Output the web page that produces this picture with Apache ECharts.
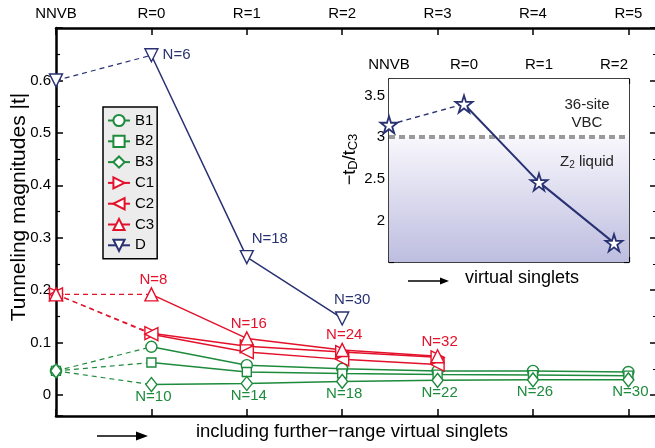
<!DOCTYPE html>
<html><head><meta charset="utf-8">
<script src="https://cdn.jsdelivr.net/npm/echarts@6/dist/echarts.min.js"></script>
<style>html,body{margin:0;padding:0;background:#fff}#c{width:655px;height:448px}</style>
</head><body><div id="c"></div>
<script>
// ---- data ----
const xLabels = ['NNVB', 'R=0', 'R=1', 'R=2', 'R=3', 'R=4', 'R=5'];
const B1 = [0.046, 0.092, 0.057, 0.050, 0.046, 0.046, 0.044];
const B2 = [0.046, 0.062, 0.044, 0.041, 0.039, 0.038, 0.037];
const B3 = [0.046, 0.020, 0.022, 0.026, 0.028, 0.029, 0.029];
const C1 = [0.192, 0.118, 0.093, 0.082, 0.072];
const C2 = [0.192, 0.116, 0.082, 0.068, 0.058];
const C3 = [0.192, 0.192, 0.108, 0.086, 0.074];
const D  = [0.600, 0.648, 0.263, 0.146];
const labelsB = ['', 'N=10', 'N=14', 'N=18', 'N=22', 'N=26', 'N=30'];
const labelsC = ['', 'N=8', 'N=16', 'N=24', 'N=32'];
const labelsD = ['', 'N=6', 'N=18', 'N=30'];
const insetLabels = ['NNVB', 'R=0', 'R=1', 'R=2'];
const ratioDC3 = [3.15, 3.40, 2.46, 1.73];
const vbcThreshold = 3;

// ---- styles ----
const FONT = 'Liberation Sans, Arial, Helvetica, sans-serif';
const GREEN = '#1d8b3c', RED = '#e4112b', NAVY = '#283272';
const STAR = 'path://M50,2 L61.2,36.2 L97.6,36.2 L68.2,57.4 L79.4,91.6 L50,70.4 L20.6,91.6 L31.8,57.4 L2.4,36.2 L38.8,36.2 Z';

function mkSeries(name, arr, color, symbol, rot, size, z, labelCfg, itemLabels) {
  const common = {
    type: 'line', xAxisIndex: 0, yAxisIndex: 0, z: z,
    symbol: symbol, symbolRotate: rot, symbolSize: size,
    itemStyle: { color: '#fff', borderColor: color, borderWidth: 1.4 },
    emphasis: { disabled: true }, animation: false
  };
  const dashed = Object.assign({}, common, {
    name: name + ' (NNVB)',
    data: [[0, arr[0]], { value: [1, arr[1]], symbol: 'none' }],
    lineStyle: { color: color, width: 1.2, type: [5, 4] }
  });
  const solidData = arr.slice(1).map((v, i) => {
    const item = { value: [i + 1, v] };
    if (itemLabels && itemLabels[i]) item.label = itemLabels[i];
    return item;
  });
  const solid = Object.assign({}, common, {
    name: name,
    data: solidData,
    lineStyle: { color: color, width: 1.5 },
    label: labelCfg
  });
  return [dashed, solid];
}

const greenLabel = {
  show: true, position: 'bottom', distance: 0, offset: [2, -3], color: GREEN,
  fontSize: 15, fontFamily: FONT, formatter: p => labelsB[p.dataIndex + 1]
};
const redLabel = {
  show: true, position: 'top', distance: 0, offset: [2, 0], color: RED,
  fontSize: 15, fontFamily: FONT, formatter: p => labelsC[p.dataIndex + 1]
};
const navyLabel = {
  show: true, position: 'top', color: NAVY,
  fontSize: 15, fontFamily: FONT, formatter: p => labelsD[p.dataIndex + 1]
};
const navyItemLabels = [
  { position: 'right', distance: 4 },
  { position: 'top', distance: 4, offset: [23, 0] },
  { position: 'top', distance: 4, offset: [10, 0] }
];

let series = [];
series = series.concat(mkSeries('B1', B1, GREEN, 'circle', 0, 11, 3));
series = series.concat(mkSeries('B2', B2, GREEN, 'rect', 0, 9, 3));
series = series.concat(mkSeries('B3', B3, GREEN, 'diamond', 0, [11, 14], 3, greenLabel));
series = series.concat(mkSeries('C1', C1, RED, 'triangle', -90, 13, 4));
series = series.concat(mkSeries('C2', C2, RED, 'triangle', 90, 13, 4));
series = series.concat(mkSeries('C3', C3, RED, 'triangle', 0, 13, 4, redLabel));
series = series.concat(mkSeries('D', D, NAVY, 'triangle', 180, 13, 5, navyLabel, navyItemLabels));

// inset series
const insetCommon = {
  type: 'line', xAxisIndex: 2, yAxisIndex: 2, z: 6,
  symbol: STAR, symbolSize: 17,
  itemStyle: { color: '#fff', borderColor: NAVY, borderWidth: 1.8 },
  emphasis: { disabled: true }, animation: false
};
series.push({
  type: 'line', xAxisIndex: 2, yAxisIndex: 2, z: 2, data: [], silent: true,
  markArea: {
    silent: true,
    itemStyle: { color: { type: 'linear', x: 0, y: 0, x2: 0, y2: 1,
      colorStops: [{ offset: 0, color: '#f8f7fc' }, { offset: 1, color: '#bdbde0' }] } },
    data: [[{ yAxis: 1.5 }, { yAxis: vbcThreshold }]]
  },
  markLine: {
    silent: true, symbol: 'none', label: { show: false },
    lineStyle: { color: '#9a9a9a', width: 4, type: [6, 4] },
    data: [{ yAxis: vbcThreshold }]
  }
});
series.push(Object.assign({}, insetCommon, {
  data: [[0, ratioDC3[0]], { value: [1, ratioDC3[1]], symbol: 'none' }],
  lineStyle: { color: NAVY, width: 1.4, type: [5, 4] }
}));
series.push(Object.assign({}, insetCommon, {
  data: ratioDC3.slice(1).map((v, i) => [i + 1, v]),
  lineStyle: { color: NAVY, width: 2 }
}));

const axisLineBlack = w => ({ show: true, onZero: false, lineStyle: { color: '#000', width: w } });

const option = {
  backgroundColor: '#fff',
  animation: false,
  textStyle: { fontFamily: FONT },
  grid: [
    { left: 56, top: 28, width: 601, height: 388, outerBoundsMode: 'none', containLabel: false },
    { left: 389, top: 79, width: 240, height: 183, show: true, backgroundColor: '#fff', borderWidth: 0, z: 1,
      outerBoundsMode: 'none', containLabel: false }
  ],
  legend: {
    data: ['B1', 'B2', 'B3', 'C1', 'C2', 'C3', 'D'],
    orient: 'vertical', left: 103, top: 107,
    itemWidth: 22, itemHeight: 14, itemGap: 5.8,
    padding: [6, 3, 6, 4],
    backgroundColor: '#ececec', borderColor: '#000', borderWidth: 1.5,
    textStyle: { fontSize: 15, color: '#000', fontFamily: FONT, lineHeight: 14 },
    selectedMode: false, z: 10
  },
  xAxis: [
    { gridIndex: 0, type: 'value', position: 'top', min: 0, max: 6.3, interval: 1,
      axisLine: axisLineBlack(2.5), splitLine: { show: false },
      axisTick: { inside: true, length: 7, lineStyle: { width: 1.5, color: '#000' } },
      axisLabel: { margin: 7, fontSize: 15, color: '#000', fontFamily: FONT,
        formatter: v => (Number.isInteger(v) && xLabels[v] !== undefined) ? xLabels[v] : '' } },
    { gridIndex: 0, type: 'value', position: 'bottom', min: 0, max: 6.3, interval: 1,
      axisLine: axisLineBlack(2.5), splitLine: { show: false },
      axisTick: { inside: true, length: 7, lineStyle: { width: 1.5, color: '#000' } },
      axisLabel: { show: false },
      name: 'including further\u2212range virtual singlets', nameLocation: 'middle', nameGap: 6,
      nameMoveOverlap: false,
      nameTextStyle: { fontSize: 18.5, color: '#000', fontFamily: FONT, padding: [0, 9, 0, 0], verticalAlign: 'top' } },
    { gridIndex: 1, type: 'value', position: 'top', min: 0, max: 3.2, interval: 1,
      axisLine: axisLineBlack(1.5), splitLine: { show: false },
      axisTick: { inside: true, length: 5, lineStyle: { width: 1.2, color: '#000' } },
      axisLabel: { margin: 7, fontSize: 15, color: '#000', fontFamily: FONT,
        formatter: v => (Number.isInteger(v) && insetLabels[v] !== undefined) ? insetLabels[v] : '' } },
    { gridIndex: 1, type: 'value', position: 'bottom', min: 0, max: 3.2, interval: 1,
      axisLine: axisLineBlack(1.5), splitLine: { show: false },
      axisTick: { inside: true, length: 5, lineStyle: { width: 1.2, color: '#000' } },
      axisLabel: { show: false },
      name: 'virtual singlets', nameLocation: 'middle', nameGap: 7, nameMoveOverlap: false,
      nameTextStyle: { fontSize: 18, color: '#000', fontFamily: FONT, padding: [0, 0, 0, 26], verticalAlign: 'top' } }
  ],
  yAxis: [
    { gridIndex: 0, type: 'value', position: 'left', min: -0.04, max: 0.7, splitNumber: 7,
      axisLine: axisLineBlack(2.5), splitLine: { show: false },
      axisTick: { inside: true, length: 7, lineStyle: { width: 1.5, color: '#000' } },
      minorTick: { show: true, splitNumber: 2, length: 4, lineStyle: { width: 1.2, color: '#000' } },
      axisLabel: { margin: 5, fontSize: 15, color: '#000', fontFamily: FONT,
        formatter: v => { const r = Math.round(v * 10); return (v >= -1e-9 && v < 0.65 && Math.abs(v * 10 - r) < 1e-6) ? (r === 0 ? '0' : (r / 10).toFixed(1)) : ''; } },
      name: 'Tunneling magnitudes |t|', nameLocation: 'middle', nameGap: 26, nameRotate: 90,
      nameMoveOverlap: false,
      nameTextStyle: { fontSize: 21, color: '#000', fontFamily: FONT, padding: [0, 0, 0, 30] } },
    { gridIndex: 0, type: 'value', position: 'right', min: -0.04, max: 0.7, splitNumber: 7,
      axisLine: axisLineBlack(2.5), splitLine: { show: false },
      axisTick: { inside: true, length: 7, lineStyle: { width: 1.5, color: '#000' } },
      minorTick: { show: true, splitNumber: 2, length: 4, lineStyle: { width: 1.2, color: '#000' } },
      axisLabel: { show: false } },
    { gridIndex: 1, type: 'value', position: 'left', min: 1.5, max: 3.7, interval: 0.5,
      axisLine: axisLineBlack(1.5), splitLine: { show: false },
      axisTick: { inside: true, length: 5, lineStyle: { width: 1.2, color: '#000' } },
      minorTick: { show: true, splitNumber: 5, length: 3, lineStyle: { width: 1, color: '#000' } },
      axisLabel: { margin: 4, fontSize: 15, color: '#000', fontFamily: FONT,
        formatter: v => (v > 1.9 && v < 3.6) ? String(+v.toFixed(1)) : '' },
      name: '{a|\u2212t}{s|D}{a|/t}{s|C3}', nameLocation: 'middle', nameGap: 26, nameRotate: 90,
      nameTextStyle: { color: '#000', fontFamily: FONT, padding: [0, 0, 0, 22],
        rich: { a: { fontSize: 18, color: '#000', fontFamily: FONT, lineHeight: 18, verticalAlign: 'top' },
                s: { fontSize: 13, color: '#000', fontFamily: FONT, lineHeight: 13, padding: [7, 0, 0, 0] } } } },
    { gridIndex: 1, type: 'value', position: 'right', min: 1.5, max: 3.7, interval: 0.5,
      axisLine: axisLineBlack(1.5), splitLine: { show: false },
      axisTick: { inside: true, length: 5, lineStyle: { width: 1.2, color: '#000' } },
      minorTick: { show: true, splitNumber: 5, length: 3, lineStyle: { width: 1, color: '#000' } },
      axisLabel: { show: false } }
  ],
  graphic: [
    { type: 'line', shape: { x1: 97, y1: 436, x2: 140, y2: 436 }, style: { stroke: '#000', lineWidth: 1.5 } },
    { type: 'polygon', shape: { points: [[136, 431.5], [148, 436], [136, 440.5]] }, style: { fill: '#000' } },
    { type: 'line', shape: { x1: 408, y1: 281, x2: 443, y2: 281 }, style: { stroke: '#000', lineWidth: 1.3 } },
    { type: 'polygon', shape: { points: [[440, 277.5], [449, 281], [440, 284.5]] }, style: { fill: '#000' } },
    { type: 'text', x: 587, y: 105, z: 20, style: { text: '36-site', font: '15px ' + FONT, fill: '#222', align: 'center', verticalAlign: 'middle' } },
    { type: 'text', x: 587, y: 123, z: 20, style: { text: 'VBC', font: '15px ' + FONT, fill: '#222', align: 'center', verticalAlign: 'middle' } },
    { type: 'text', x: 587, y: 162, z: 20, style: { text: '{a|Z}{s|2}{a| liquid}', align: 'center', verticalAlign: 'middle',
        rich: { a: { fontSize: 15, fontFamily: FONT, fill: '#222', lineHeight: 16, verticalAlign: 'top' },
                s: { fontSize: 10, fontFamily: FONT, fill: '#222', lineHeight: 10, padding: [7, 0, 0, 0] } } } }
  ],
  series: series
};

const chart = echarts.init(document.getElementById('c'), null, { renderer: 'canvas' });
chart.setOption(option);
</script>
</body></html>
